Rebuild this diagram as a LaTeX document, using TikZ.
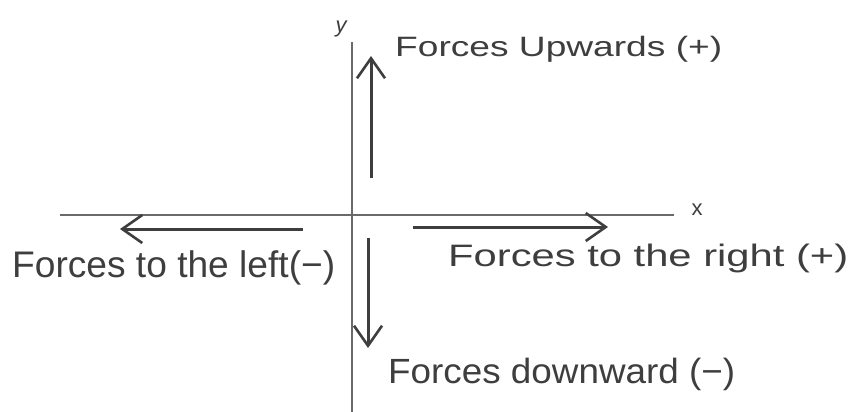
\documentclass[tikz,border=0pt]{standalone}
\usepackage{fontspec}
\setmainfont{Liberation Sans}
\usepackage{graphicx}
\usetikzlibrary{arrows.meta}
\definecolor{pencil}{HTML}{3E3E3E}
\definecolor{axisgray}{HTML}{6A6A6A}
\begin{document}
\begin{tikzpicture}[x=1pt,y=-1pt,
  axisline/.style={draw=axisgray,line width=1.8pt},
  forcearrow/.style={draw=pencil,line width=3pt,-{Straight Barb[length=20pt,width=28pt,line width=2.6pt]}},
  label/.style={text=pencil,inner sep=0pt,anchor=base west},
  axislabel/.style={text=pencil,inner sep=0pt,font=\fontsize{22}{24}\selectfont}]
\useasboundingbox[fill=white] (0,0) rectangle (854,412);
% axes
\coordinate (ytop) at (352,42);
\coordinate (ybot) at (352,412);
\coordinate (xleft) at (60,215);
\coordinate (xright) at (674,215);
\draw[axisline] (ybot) -- (ytop);
\draw[axisline] (xleft) -- (xright);
\node[axislabel] (ylab) at (341,29) {\itshape y};
\node[axislabel] (xlab) at (697,210) {x};
% arrows
\coordinate (upS) at (371,178);
\coordinate (upE) at (371,56);
\coordinate (leftS) at (303,229);
\coordinate (leftE) at (120,229);
\coordinate (rightS) at (413,227);
\coordinate (rightE) at (608,227);
\coordinate (downS) at (368,238);
\coordinate (downE) at (368,348);
\draw[forcearrow] (upS) -- (upE);
\draw[forcearrow] (leftS) -- (leftE);
\draw[forcearrow] (rightS) -- (rightE);
\draw[forcearrow] (downS) -- (downE);
% labels
\node[label,font=\fontsize{28}{30}\selectfont] (tup) at (395,57) {\resizebox{327pt}{\height}{Forces Upwards (+)}};
\node[label,font=\fontsize{37}{40}\selectfont] (tleft) at (12,277) {\resizebox{323pt}{\height}{Forces to the left(−)}};
\node[label,font=\fontsize{31}{34}\selectfont] (tright) at (448,266) {\resizebox{400pt}{\height}{Forces to the right (+)}};
\node[label,font=\fontsize{35}{38}\selectfont] (tdown) at (388,383) {\resizebox{347pt}{\height}{Forces downward (−)}};
\end{tikzpicture}
\end{document}
